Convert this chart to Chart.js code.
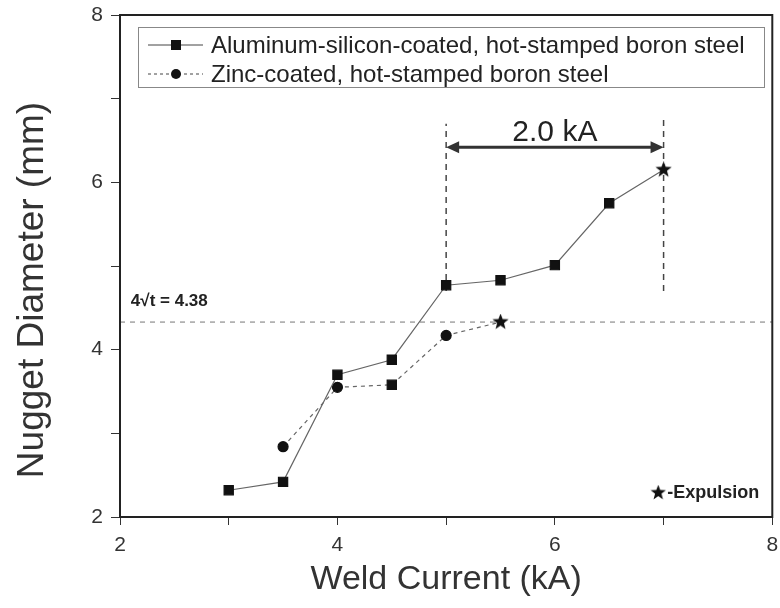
<!DOCTYPE html>
<html>
<head>
<meta charset="utf-8">
<script src="https://cdn.jsdelivr.net/npm/chart.js@4"></script>
<style>
  html, body { margin: 0; padding: 0; background: #fff; }
</style>
</head>
<body>
<canvas id="grafico_pepita" width="780" height="608"></canvas>
<script>
// data
var alCurrent = [3, 3.5, 4, 4.5, 5, 5.5, 6, 6.5, 7];
var alDiameter = [2.32, 2.42, 3.70, 3.88, 4.77, 4.83, 5.01, 5.75, 6.15];
var znCurrent = [3.5, 4, 4.5, 5, 5.5];
var znDiameter = [2.84, 3.55, 3.58, 4.17, 4.33];
var criterion = 4.33;
var criterionLabel = "4\u221At = 4.38";
var windowStart = 5, windowEnd = 7, windowArrowY = 6.42;
var windowTop = 6.7, windowBottom = 4.7;
var xTicks = [2, 4, 6, 8];
var yTicks = [2, 4, 6, 8];
var legendLabels = ["Aluminum-silicon-coated, hot-stamped boron steel", "Zinc-coated, hot-stamped boron steel"];
var xTitle = "Weld Current (kA)";
var yTitle = "Nugget Diameter (mm)";

var FONT = "'Liberation Sans', Arial, sans-serif";

function starImage(size) {
    var c = document.createElement("canvas");
    c.width = size; c.height = size;
    var g = c.getContext("2d");
    var r = size / 2, ri = r * 0.42;
    g.beginPath();
    for (var i = 0; i < 10; i++) {
        var a = -Math.PI / 2 + i * Math.PI / 5;
        var rr = i % 2 ? ri : r;
        g.lineTo(r + rr * Math.cos(a), r + rr * Math.sin(a));
    }
    g.closePath();
    g.fillStyle = "#111";
    g.fill();
    return c;
}
var star = starImage(17);

function pts(xs, ys) {
    return xs.map(function (x, i) { return { x: x, y: ys[i] }; });
}

var alStyles = alCurrent.map(function (c, i) { return i == alCurrent.length - 1 ? star : "rect"; });
var znStyles = znCurrent.map(function (c, i) { return i == znCurrent.length - 1 ? star : (i == 2 ? "rect" : "circle"); });
function radii(styles) {
    return styles.map(function (s) { return s == "rect" ? 6.5 : 5; });
}

var refStyle = { borderColor: "#777", borderWidth: 1, borderDash: [5, 5], pointRadius: 0, showLine: true, fill: false };

var extras = {
    id: "extras",
    afterDatasetsDraw: function (chart) {
        var ctx = chart.ctx, xs = chart.scales.x, ys = chart.scales.y, a = chart.chartArea;
        ctx.save();
        // frame
        ctx.strokeStyle = "#222";
        ctx.lineWidth = 2;
        ctx.strokeRect(a.left, a.top, a.right - a.left, a.bottom - a.top);
        // axis titles
        ctx.fillStyle = "#333";
        ctx.textAlign = "center";
        ctx.textBaseline = "middle";
        ctx.font = "34px " + FONT;
        ctx.fillText(xTitle, (a.left + a.right) / 2, 580);
        ctx.save();
        ctx.translate(33, 290);
        ctx.rotate(-Math.PI / 2);
        ctx.font = "37px " + FONT;
        ctx.fillText(yTitle, 0, 0);
        ctx.restore();
        // arrow 2.0 kA
        var x1 = xs.getPixelForValue(windowStart), x2 = xs.getPixelForValue(windowEnd), y = ys.getPixelForValue(windowArrowY);
        ctx.strokeStyle = "#333";
        ctx.fillStyle = "#333";
        ctx.lineWidth = 3;
        ctx.beginPath(); ctx.moveTo(x1 + 8, y); ctx.lineTo(x2 - 8, y); ctx.stroke();
        ctx.beginPath(); ctx.moveTo(x1, y); ctx.lineTo(x1 + 13, y - 6); ctx.lineTo(x1 + 13, y + 6); ctx.closePath(); ctx.fill();
        ctx.beginPath(); ctx.moveTo(x2, y); ctx.lineTo(x2 - 13, y - 6); ctx.lineTo(x2 - 13, y + 6); ctx.closePath(); ctx.fill();
        ctx.font = "30px " + FONT;
        ctx.textAlign = "center";
        ctx.textBaseline = "alphabetic";
        ctx.fillStyle = "#222";
        ctx.fillText("2.0 kA", (x1 + x2) / 2, y - 6);
        // criterion label
        ctx.font = "bold 17px " + FONT;
        ctx.textAlign = "left";
        ctx.fillText(criterionLabel, xs.getPixelForValue(2.1), ys.getPixelForValue(criterion) - 16);
        // expulsion note
        ctx.font = "bold 18px " + FONT;
        ctx.textAlign = "right";
        ctx.textBaseline = "middle";
        var ey = ys.getPixelForValue(2.29), ex = xs.getPixelForValue(7.88);
        ctx.fillText("-Expulsion", ex, ey);
        var tw = ctx.measureText("-Expulsion").width;
        ctx.drawImage(star, ex - tw - 17, ey - 8, 16, 16);
        // legend
        ctx.lineWidth = 1;
        ctx.strokeStyle = "#888";
        ctx.strokeRect(138.5, 27.5, 626, 60);
        ctx.font = "24px " + FONT;
        ctx.textAlign = "left";
        for (var k = 0; k < 2; k++) {
            var ly = 45 + k * 29;
            ctx.strokeStyle = "#444";
            ctx.setLineDash(k ? [3, 3] : []);
            ctx.beginPath(); ctx.moveTo(148, ly); ctx.lineTo(203, ly); ctx.stroke();
            ctx.setLineDash([]);
            ctx.fillStyle = "#111";
            if (k) { ctx.beginPath(); ctx.arc(176, ly, 5, 0, Math.PI * 2); ctx.fill(); }
            else { ctx.fillRect(171, ly - 5, 10, 10); }
            ctx.fillStyle = "#222";
            ctx.fillText(legendLabels[k], 211, ly + 1);
        }
        ctx.restore();
    }
};

var ctx = document.getElementById("grafico_pepita").getContext("2d");
var myChart = new Chart(ctx, {
    type: "scatter",
    data: {
        datasets: [
            {
                label: legendLabels[0],
                data: pts(alCurrent, alDiameter),
                showLine: true,
                borderColor: "#666",
                borderWidth: 1.2,
                pointStyle: alStyles,
                pointRadius: radii(alStyles),
                pointBackgroundColor: "#111",
                pointBorderColor: "#111",
            },
            {
                label: legendLabels[1],
                data: pts(znCurrent, znDiameter),
                showLine: true,
                borderColor: "#666",
                borderWidth: 1.2,
                borderDash: [4, 4],
                pointStyle: znStyles,
                pointRadius: radii(znStyles),
                pointBackgroundColor: "#111",
                pointBorderColor: "#111",
            },
            Object.assign({ label: "criterion", data: [{ x: 2, y: criterion }, { x: 8, y: criterion }] }, refStyle),
            Object.assign({ label: "start", data: [{ x: windowStart, y: windowBottom }, { x: windowStart, y: windowTop }] }, refStyle, { borderColor: "#444", borderWidth: 1.5, borderDash: [6, 5] }),
            Object.assign({ label: "end", data: [{ x: windowEnd, y: windowBottom }, { x: windowEnd, y: windowTop + 0.05 }] }, refStyle, { borderColor: "#444", borderWidth: 1.5, borderDash: [6, 5] }),
        ],
    },
    options: {
        responsive: false,
        animation: false,
        layout: { padding: { left: 0, right: 7, top: 15, bottom: 0 } },
        plugins: { legend: { display: false }, tooltip: { enabled: false } },
        scales: {
            x: {
                min: 2, max: 8,
                afterFit: function (s) { s.height = 91; s.paddingLeft = 0; s.paddingRight = 0; },
                ticks: {
                    stepSize: 1,
                    autoSkip: false,
                    maxRotation: 0,
                    padding: 8,
                    color: "#333",
                    font: { size: 21, family: FONT },
                    callback: function (v) { return xTicks.indexOf(v) >= 0 ? String(v) : ""; },
                },
                grid: { drawOnChartArea: false, tickLength: 8, color: "#333" },
                border: { color: "#222", width: 2 },
            },
            y: {
                min: 2, max: 8,
                afterFit: function (s) { s.width = 120; s.paddingTop = 0; s.paddingBottom = 0; },
                ticks: {
                    stepSize: 1,
                    autoSkip: false,
                    padding: 8,
                    color: "#333",
                    font: { size: 21, family: FONT },
                    callback: function (v) { return yTicks.indexOf(v) >= 0 ? String(v) : ""; },
                },
                grid: { drawOnChartArea: false, tickLength: 9, color: "#333" },
                border: { color: "#222", width: 2 },
            },
        },
    },
    plugins: [extras],
});
</script>
</body>
</html>
